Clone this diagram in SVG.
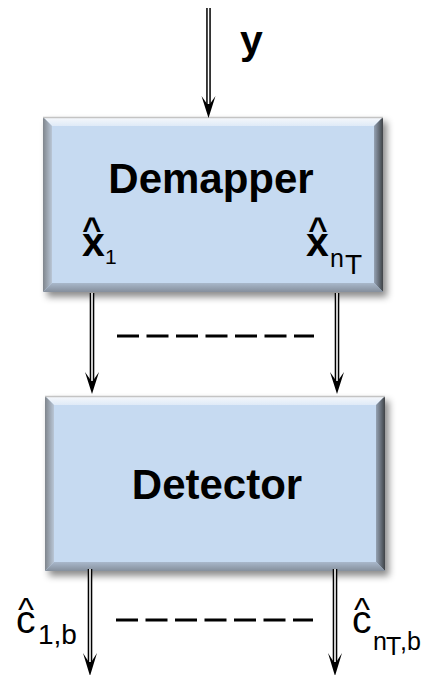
<svg xmlns="http://www.w3.org/2000/svg" width="425" height="675" viewBox="0 0 425 675">
  <style>
    .bold { font-family: "Liberation Sans", Arial, sans-serif; font-weight: bold; fill: #000; }
    .reg { font-family: "Liberation Sans", Arial, sans-serif; fill: #000; }
    .wire-outer { stroke: #000; stroke-width: 4.6; fill: none; }
    .wire-inner { stroke: #fff; stroke-width: 1.6; fill: none; }
    .dash { stroke: #000; stroke-width: 3; stroke-dasharray: 22 7.5; fill: none; }
    .head { fill: #000; }
  </style>
  <defs>
    <filter id="shadow" x="-10%" y="-10%" width="130%" height="130%">
      <feDropShadow dx="4" dy="5" stdDeviation="3.5" flood-color="#000" flood-opacity="0.45"/>
    </filter>
    <linearGradient id="bevTop" x1="0" y1="0" x2="0" y2="1">
      <stop offset="0" stop-color="#f7f9fc"/>
      <stop offset="1" stop-color="#dfeaf7"/>
    </linearGradient>
    <linearGradient id="bevLeft" x1="0" y1="0" x2="1" y2="0">
      <stop offset="0" stop-color="#7f858c"/>
      <stop offset="1" stop-color="#b9c6d6"/>
    </linearGradient>
    <linearGradient id="bevRight" x1="0" y1="0" x2="1" y2="0">
      <stop offset="0" stop-color="#95a2b3"/>
      <stop offset="1" stop-color="#3f4247"/>
    </linearGradient>
    <linearGradient id="bevBottom" x1="0" y1="0" x2="0" y2="1">
      <stop offset="0" stop-color="#a9b8cb"/>
      <stop offset="1" stop-color="#858f9c"/>
    </linearGradient>
    <!-- bevelled block, 340 x 175 -->
    <g id="block">
      <rect x="0" y="0" width="340" height="175" fill="#c6daf1"/>
      <polygon points="0,0 340,0 331,9 9,9" fill="url(#bevTop)"/>
      <polygon points="0,0 9,9 9,166 0,175" fill="url(#bevLeft)"/>
      <polygon points="340,0 340,175 331,166 331,9" fill="url(#bevRight)"/>
      <polygon points="0,175 9,166 331,166 340,175" fill="url(#bevBottom)"/>
      <line x1="0" y1="0.5" x2="340" y2="0.5" stroke="#c4c4c4" stroke-width="1.5"/>
    </g>
  </defs>

  <!-- Demapper node -->
  <g id="demapper">
    <use href="#block" x="43" y="117" filter="url(#shadow)"/>
    <text class="bold" x="211" y="193" font-size="42" text-anchor="middle">Demapper</text>
    <text class="bold" x="92" y="240" font-size="33" text-anchor="middle">^</text>
    <text class="bold" x="82" y="256" font-size="41">x</text>
    <text class="reg" x="105" y="264" font-size="21">1</text>
    <text class="bold" x="318" y="240" font-size="33" text-anchor="middle">^</text>
    <text class="bold" x="306" y="256" font-size="41">x</text>
    <text class="reg" x="330" y="267" font-size="25">n</text>
    <text class="reg" x="345" y="274" font-size="28">T</text>
  </g>

  <!-- Detector node -->
  <g id="detector">
    <use href="#block" x="45" y="396" filter="url(#shadow)"/>
    <text class="bold" x="217" y="499" font-size="42" text-anchor="middle">Detector</text>
  </g>

  <!-- connectors -->
  <g id="connectors">
    <!-- input y -->
    <line class="wire-outer" x1="208.5" y1="8" x2="208.5" y2="106"/>
    <line class="wire-inner" x1="208.5" y1="8" x2="208.5" y2="104"/>
    <path class="head" d="M208.5,118 L201.5,96 L208.5,106 L215.5,96 Z"/>

    <!-- demapper to detector -->
    <line class="wire-outer" x1="92" y1="293" x2="92" y2="383"/>
    <line class="wire-inner" x1="92" y1="293" x2="92" y2="381"/>
    <path class="head" d="M92,394 L85,372 L92,382 L99,372 Z"/>
    <line class="wire-outer" x1="337" y1="293" x2="337" y2="383"/>
    <line class="wire-inner" x1="337" y1="293" x2="337" y2="381"/>
    <path class="head" d="M337,394 L330,372 L337,382 L344,372 Z"/>
    <line class="dash" x1="117" y1="336" x2="314" y2="336"/>

    <!-- detector outputs -->
    <line class="wire-outer" x1="90" y1="569" x2="90" y2="664"/>
    <line class="wire-inner" x1="90" y1="569" x2="90" y2="662"/>
    <path class="head" d="M90,676 L83,653 L90,664 L97,653 Z"/>
    <line class="wire-outer" x1="335" y1="569" x2="335" y2="664"/>
    <line class="wire-inner" x1="335" y1="569" x2="335" y2="662"/>
    <path class="head" d="M335,676 L328,653 L335,664 L342,653 Z"/>
    <line class="dash" x1="116" y1="620" x2="313" y2="620"/>
  </g>

  <!-- labels on connectors -->
  <g id="labels">
    <text class="bold" x="240" y="54" font-size="41">y</text>

    <text class="reg" x="26" y="621" font-size="34" text-anchor="middle">^</text>
    <text class="reg" x="16" y="633" font-size="39">c</text>
    <text class="reg" x="38" y="644" font-size="28">1,b</text>

    <text class="reg" x="362" y="621" font-size="34" text-anchor="middle">^</text>
    <text class="reg" x="352" y="633" font-size="39">c</text>
    <text class="reg" x="373" y="650" font-size="25">n</text>
    <text class="reg" x="386" y="655" font-size="25">T</text>
    <text class="reg" x="400" y="650" font-size="25">,b</text>
  </g>
</svg>
